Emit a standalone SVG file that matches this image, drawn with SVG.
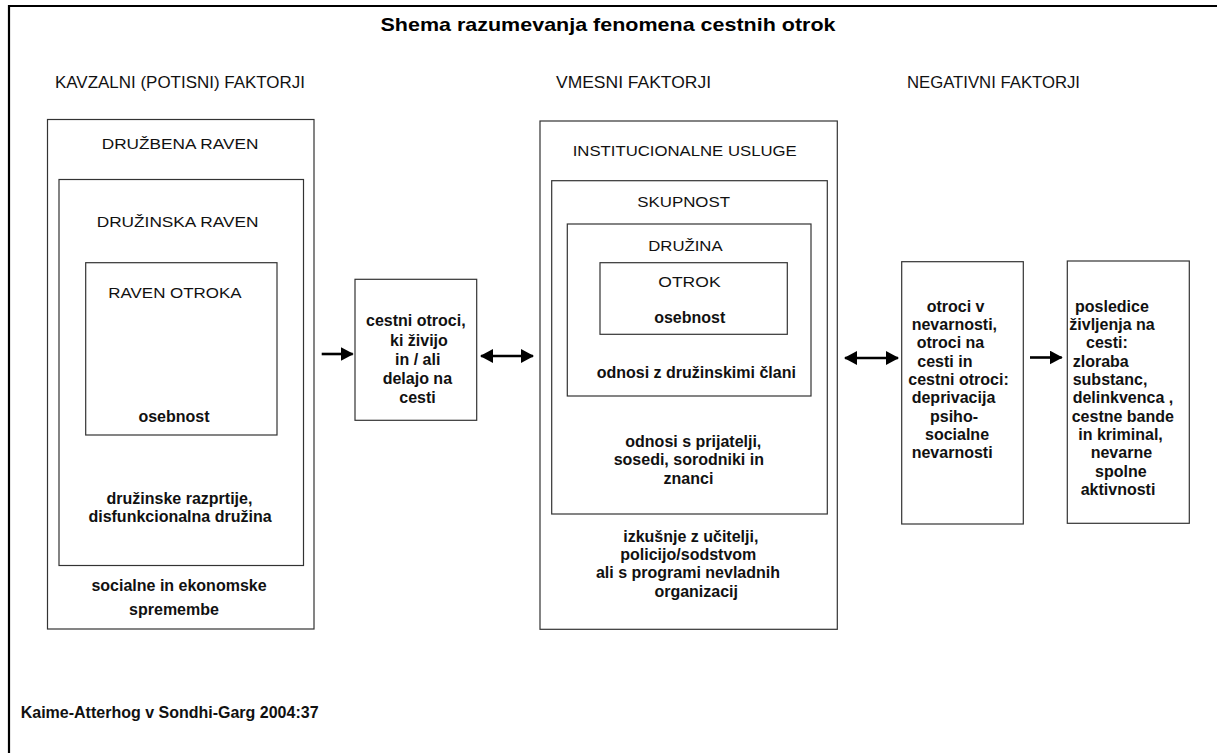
<svg xmlns="http://www.w3.org/2000/svg" width="1217" height="753" viewBox="0 0 1217 753">
<style>
.box{fill:#fff;stroke:#333;stroke-width:1.2}
.cap{font-family:"Liberation Sans",Arial,sans-serif;font-size:15.5px;fill:#111}
.hdr{font-family:"Liberation Sans",Arial,sans-serif;font-size:16.5px;fill:#111}
.body{font-family:"Liberation Sans",Arial,sans-serif;font-size:16px;font-weight:bold;fill:#111}
.c{text-anchor:middle}
.title{font-family:"Liberation Sans",Arial,sans-serif;font-size:19px;font-weight:bold;fill:#000;text-anchor:middle}
.arr{stroke:#000;stroke-width:2.6;fill:none}
</style>
<defs>
<marker id="ah" markerUnits="userSpaceOnUse" markerWidth="13" markerHeight="14" refX="12" refY="7" orient="auto-start-reverse">
<path d="M0,0 L13,7 L0,14 Z" fill="#000"/>
</marker>
</defs>
<rect width="1217" height="753" fill="#fff"/>
<path d="M9,753 V6 H1217" fill="none" stroke="#000" stroke-width="2.2"/>
<text class="title" x="608" y="31" textLength="455" lengthAdjust="spacingAndGlyphs">Shema razumevanja fenomena cestnih otrok</text>
<text class="hdr" x="55" y="88" textLength="250" lengthAdjust="spacingAndGlyphs">KAVZALNI (POTISNI) FAKTORJI</text>
<text class="hdr" x="556" y="88" textLength="155" lengthAdjust="spacingAndGlyphs">VMESNI FAKTORJI</text>
<text class="hdr" x="907" y="88" textLength="173" lengthAdjust="spacingAndGlyphs">NEGATIVNI FAKTORJI</text>

<g id="druzbena-raven">
<rect class="box" x="47.5" y="119.5" width="266.5" height="509.5"/>
<text class="cap" x="101.7" y="149" textLength="156.7" lengthAdjust="spacingAndGlyphs">DRUŽBENA RAVEN</text>
<text class="body c" x="179" y="590.7">socialne in ekonomske</text>
<text class="body c" x="174" y="615">spremembe</text>
</g>
<g id="druzinska-raven">
<rect class="box" x="59" y="179.5" width="244.5" height="386"/>
<text class="cap" x="96.7" y="227.3" textLength="161.7" lengthAdjust="spacingAndGlyphs">DRUŽINSKA RAVEN</text>
<text class="body c" x="179.5" y="503.5">družinske razprtije,</text>
<text class="body c" x="180" y="521.7">disfunkcionalna družina</text>
</g>
<g id="raven-otroka">
<rect class="box" x="85.7" y="262.7" width="191.3" height="172.3"/>
<text class="cap" x="108.3" y="297.7" textLength="133.3" lengthAdjust="spacingAndGlyphs">RAVEN OTROKA</text>
<text class="body c" x="174" y="422.3">osebnost</text>
</g>

<g id="cestni-otroci">
<rect class="box" x="355" y="279.3" width="121.7" height="141"/>
<text class="body" x="366" y="325.7">cestni otroci,</text>
<text class="body" x="390" y="345.7">ki živijo</text>
<text class="body" x="395" y="365">in / ali</text>
<text class="body" x="382.7" y="384">delajo na</text>
<text class="body" x="399.3" y="403.3">cesti</text>
</g>

<g id="institucionalne-usluge">
<rect class="box" x="540" y="121" width="297.3" height="508.3"/>
<text class="cap" x="572.7" y="155.7" textLength="224" lengthAdjust="spacingAndGlyphs">INSTITUCIONALNE USLUGE</text>
<text class="body c" x="690.8" y="541.7">izkušnje z učitelji,</text>
<text class="body c" x="688.3" y="560">policijo/sodstvom</text>
<text class="body c" x="688" y="578.3">ali s programi nevladnih</text>
<text class="body c" x="696.2" y="596.7">organizacij</text>
</g>
<g id="skupnost">
<rect class="box" x="551.7" y="180.7" width="275.6" height="333.3"/>
<text class="cap" x="637.3" y="207.3" textLength="92.7" lengthAdjust="spacingAndGlyphs">SKUPNOST</text>
<text class="body c" x="693.3" y="446.7">odnosi s prijatelji,</text>
<text class="body c" x="688.8" y="465">sosedi, sorodniki in</text>
<text class="body c" x="688.5" y="484.3">znanci</text>
</g>
<g id="druzina">
<rect class="box" x="567.3" y="224" width="243.7" height="172"/>
<text class="cap" x="648.3" y="250.7" textLength="74.3" lengthAdjust="spacingAndGlyphs">DRUŽINA</text>
<text class="body c" x="696.3" y="378.3">odnosi z družinskimi člani</text>
</g>
<g id="otrok">
<rect class="box" x="600" y="262.7" width="187.3" height="71.6"/>
<text class="cap" x="658.3" y="286.7" textLength="62.3" lengthAdjust="spacingAndGlyphs">OTROK</text>
<text class="body c" x="689.7" y="323.3">osebnost</text>
</g>

<g id="otroci-v-nevarnosti">
<rect class="box" x="901.7" y="261.7" width="121.6" height="262.3"/>
<text class="body" x="926.7" y="311.7">otroci v</text>
<text class="body" x="911.7" y="330">nevarnosti,</text>
<text class="body" x="916.7" y="347.7">otroci na</text>
<text class="body" x="917.3" y="366.7">cesti in</text>
<text class="body" x="908.3" y="385">cestni otroci:</text>
<text class="body" x="911.7" y="402.7">deprivacija</text>
<text class="body" x="930" y="421.7">psiho-</text>
<text class="body" x="925" y="440">socialne</text>
<text class="body" x="911.7" y="458.3">nevarnosti</text>
</g>

<g id="posledice">
<rect class="box" x="1067.3" y="261" width="122" height="262.3"/>
<text class="body" x="1075" y="311.7">posledice</text>
<text class="body" x="1069.3" y="330">življenja na</text>
<text class="body" x="1086" y="347.7">cesti:</text>
<text class="body" x="1072.7" y="366.7">zloraba</text>
<text class="body" x="1072.7" y="385">substanc,</text>
<text class="body" x="1072.7" y="402.7">delinkvenca ,</text>
<text class="body" x="1071.7" y="421.7">cestne bande</text>
<text class="body" x="1078.3" y="440">in kriminal,</text>
<text class="body" x="1090.7" y="458.3">nevarne</text>
<text class="body" x="1095" y="476.7">spolne</text>
<text class="body" x="1080.7" y="495">aktivnosti</text>
</g>

<g id="connectors">
<line class="arr" x1="321.7" y1="354" x2="352.7" y2="354" marker-end="url(#ah)"/>
<line class="arr" x1="481" y1="356" x2="533" y2="356" marker-start="url(#ah)" marker-end="url(#ah)"/>
<line class="arr" x1="845" y1="358" x2="898" y2="358" marker-start="url(#ah)" marker-end="url(#ah)"/>
<line class="arr" x1="1030" y1="357.5" x2="1061.7" y2="357.5" marker-end="url(#ah)"/>
</g>

<text class="body" x="20.7" y="718.3">Kaime-Atterhog v Sondhi-Garg 2004:37</text>
</svg>
